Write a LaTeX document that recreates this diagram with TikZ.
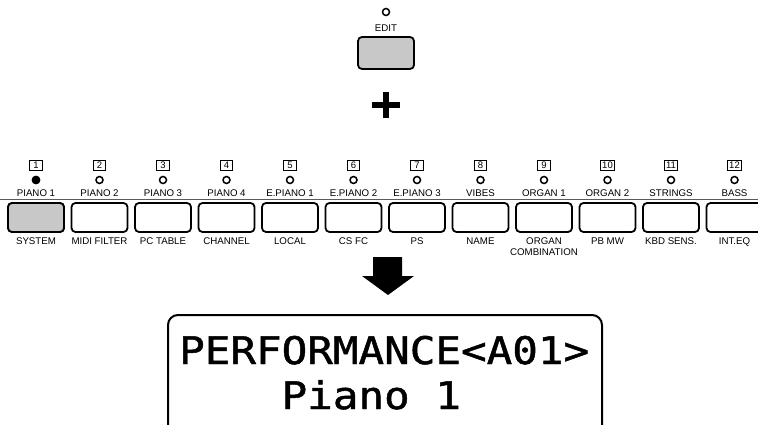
\documentclass[tikz,border=0pt]{standalone}
\usepackage{fontspec}
\setmainfont{Liberation Sans}
\newfontfamily\lcdfont{DejaVu Sans Mono}[FakeStretch=1.12,FakeBold=1.3]
\usetikzlibrary{calc}
\definecolor{GrisBoton}{RGB}{200,200,200}
\definecolor{GrisLinea}{RGB}{90,90,90}

\begin{document}
\begin{tikzpicture}[x=1pt,y=-1pt,
  boton/.style={draw,line width=1.8pt,rounded corners=4pt,minimum width=56pt,minimum height=29pt,inner sep=0pt},
  luz/.style={circle,draw,line width=1.5pt,minimum size=7pt,inner sep=0pt},
  numero/.style={draw,line width=0.8pt,inner xsep=1.5pt,inner ysep=0.5pt,minimum width=12.5pt,minimum height=10.5pt,font=\fontsize{9.5}{10}\selectfont},
  etiqueta/.style={font=\fontsize{9.7}{10.7}\selectfont,inner sep=0pt,align=center}]
  \clip (0,0) rectangle (758,425);
  % EDIT
  \node[luz] (ledEdit) at (386,12) {};
  \node[etiqueta] (txtEdit) at (386,28) {EDIT};
  \node[boton,fill=GrisBoton,minimum height=32pt] (botEdit) at (386,53) {};
  % signo mas
  \draw[line width=6pt] (372,105) -- (400,105);
  \draw[line width=6pt] (386,92) -- (386,118);
  % fila de botones
  \draw[line width=1.6pt,GrisLinea] (0,199.5) -- (758,199.5);
  \foreach \i/\arriba/\abajo in {1/PIANO 1/SYSTEM,2/PIANO 2/MIDI FILTER,3/PIANO 3/PC TABLE,
      4/PIANO 4/CHANNEL,5/E.PIANO 1/LOCAL,6/E.PIANO 2/CS FC,7/E.PIANO 3/PS,8/VIBES/NAME,
      9/ORGAN 1/{ORGAN\\COMBINATION},10/ORGAN 2/PB MW,11/STRINGS/KBD SENS.,12/BASS/INT.EQ}{
    \pgfmathsetmacro\cx{36+63.5*(\i-1)}
    \node[numero] (num\i) at (\cx,165.5) {\i};
    \node[luz] (led\i) at (\cx,180) {};
    \node[etiqueta] (sup\i) at (\cx,193) {\arriba};
    \node[boton] (bot\i) at (\cx,217.5) {};
    \node[etiqueta,anchor=north] (inf\i) at (\cx,237.5) {\abajo};
  }
  \fill[black] (led1) circle (4.2pt);
  \node[boton,fill=GrisBoton] at (bot1) {};
  % flecha
  \fill (373,257) -- (402,257) -- (402,276) -- (414,276) -- (388,295)
    -- (362,276) -- (373,276) -- cycle;
  % pantalla
  \draw[line width=2pt,rounded corners=10pt] (168,440) -- (168,315) -- (602,315) -- (602,440);
  \node[anchor=base west,inner sep=0pt,font=\lcdfont\fontsize{38}{40}\selectfont] (linea1) at (179,364) {PERFORMANCE<A01>};
  \node[anchor=base west,inner sep=0pt,font=\lcdfont\fontsize{38}{40}\selectfont] (linea2) at (281.4,409) {Piano 1};
\end{tikzpicture}
\end{document}
